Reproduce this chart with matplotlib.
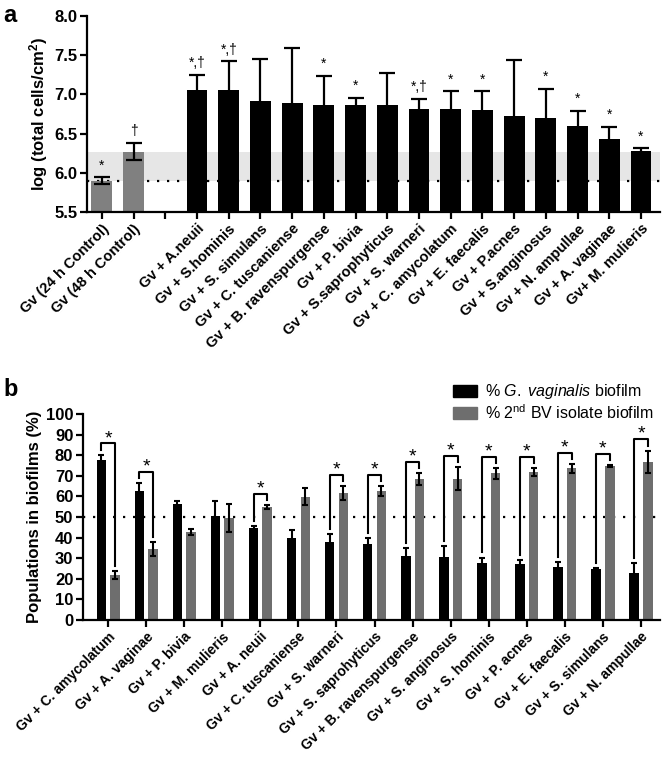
import numpy as np
import matplotlib
matplotlib.use('Agg')
import matplotlib.pyplot as plt
from matplotlib.patches import Patch

plt.rcParams['font.family'] = ['Liberation Sans', 'DejaVu Sans']
plt.rcParams['mathtext.fontset'] = 'custom'
plt.rcParams['mathtext.rm'] = 'Liberation Sans'
plt.rcParams['mathtext.it'] = 'Liberation Sans:italic'
plt.rcParams['mathtext.bf'] = 'Liberation Sans:bold'

# panel a : total cells
a_labels = ['Gv (24 h Control)', 'Gv (48 h Control)', '',
            'Gv + A.neuii', 'Gv + S.hominis', 'Gv + S. simulans', 'Gv + C. tuscaniense',
            'Gv + B. ravenspurgense', 'Gv + P. bivia', 'Gv + S.saprophyticus',
            'Gv + S. warneri', 'Gv + C. amycolatum', 'Gv + E. faecalis', 'Gv + P.acnes',
            'Gv + S.anginosus', 'Gv + N. ampullae', 'Gv + A. vaginae', 'Gv+ M. mulieris']
a_mean = [5.90, 6.27, np.nan, 7.05, 7.05, 6.91, 6.89, 6.87, 6.86, 6.86,
          6.82, 6.81, 6.80, 6.73, 6.70, 6.60, 6.43, 6.28]
a_err = [0.045, 0.11, np.nan, 0.20, 0.37, 0.54, 0.70, 0.37, 0.10, 0.41,
         0.12, 0.23, 0.24, 0.71, 0.37, 0.19, 0.16, 0.03]
a_marks = ['*', '†', '', '*,†', '*,†', '', '', '*', '*', '',
           '*,†', '*', '*', '', '*', '*', '*', '*']
ctrl_24 = 5.90
ctrl_48 = 6.27

# panel b : populations
b_labels = ['Gv + C. amycolatum', 'Gv + A. vaginae', 'Gv + P. bivia', 'Gv + M. mulieris',
            'Gv + A. neuii', 'Gv + C. tuscaniense', 'Gv + S. warneri', 'Gv + S. saprohyticus',
            'Gv + B. ravenspurgense', 'Gv + S. anginosus', 'Gv + S. hominis', 'Gv + P. acnes',
            'Gv + E. faecalis', 'Gv + S. simulans', 'Gv + N. ampullae']
gv_pct = [77.7, 62.6, 56.5, 50.5, 44.8, 39.8, 37.9, 36.7, 31.0, 30.7, 27.8, 27.2, 25.6, 24.9, 22.7]
gv_err = [2.5, 3.7, 1.5, 7.3, 1.0, 4.0, 4.0, 2.9, 4.0, 5.3, 2.5, 2.0, 2.5, 0.5, 5.1]
bv_pct = [21.8, 34.5, 42.7, 49.5, 54.7, 59.9, 61.6, 62.6, 68.3, 68.6, 71.2, 71.8, 73.6, 74.6, 76.9]
bv_err = [2.1, 3.5, 1.5, 6.8, 1.0, 4.0, 3.4, 2.5, 3.0, 5.5, 2.6, 1.8, 2.0, 0.5, 5.3]
b_sig = [True, True, False, False, True, False, True, True, True, True, True, True, True, True, True]

fig = plt.figure(figsize=(6.72, 7.61), dpi=100)

def style(ax):
    for s in ['top', 'right']:
        ax.spines[s].set_visible(False)
    for s in ['left', 'bottom']:
        ax.spines[s].set_linewidth(1.6)
    ax.tick_params(width=1.6, length=5, direction='out', pad=2)
    for t in ax.get_yticklabels():
        t.set_fontweight('bold')

# ---------- a
ax1 = fig.add_axes([87/672, 1-212/761, 573/672, 196/761])
x = np.arange(len(a_labels))
cols = ['#808080', '#808080'] + ['black'] * (len(a_labels) - 2)
ax1.axhspan(ctrl_24, ctrl_48, color='#e6e6e6', zorder=0, lw=0)
ax1.axhline(ctrl_24, color='black', ls=(0, (1, 3.5)), lw=1.6, zorder=1)
ax1.bar(x, a_mean, width=0.66, color=cols, bottom=0, zorder=2)
ax1.errorbar(x, a_mean, yerr=a_err, fmt='none', ecolor='black', elinewidth=1.6,
             capsize=6, capthick=1.6, zorder=3)
for xi, m, e, s in zip(x, a_mean, a_err, a_marks):
    if s:
        ax1.text(xi, m + e + 0.06, s, ha='center', va='bottom', fontsize=10)
ax1.set_ylim(5.5, 8.0)
ax1.set_yticks(np.arange(5.5, 8.01, 0.5))
ax1.set_yticklabels([f'{v:.1f}' for v in np.arange(5.5, 8.01, 0.5)], fontsize=12)
ax1.set_xlim(-0.47, 17.6)
ax1.set_xticks(x)
ax1.set_xticklabels(a_labels, rotation=45, ha='right', rotation_mode='anchor',
                    fontsize=10.5, fontweight='bold')
ax1.set_ylabel('log (total cells/cm$^\\mathbf{2}$)', fontsize=12, fontweight='bold', labelpad=3)
style(ax1)
fig.text(0.005, 0.995, 'a', fontsize=17, fontweight='bold', va='top')

# ---------- b
ax2 = fig.add_axes([83/672, 1-620/761, 577/672, 206/761])
xb = np.arange(len(b_labels))
off = 0.18
w = 0.25
ax2.axhline(50, color='black', ls=(0, (1, 3.5)), lw=1.6, zorder=1)
ax2.bar(xb - off, gv_pct, width=w, color='black', zorder=2)
ax2.bar(xb + off, bv_pct, width=w, color='#6e6e6e', zorder=2)
ax2.errorbar(xb - off, gv_pct, yerr=gv_err, fmt='none', ecolor='black', elinewidth=1.5,
             capsize=2.5, capthick=1.5, zorder=3)
ax2.errorbar(xb + off, bv_pct, yerr=bv_err, fmt='none', ecolor='black', elinewidth=1.5,
             capsize=2.5, capthick=1.5, zorder=3)
for xi, g, ge, b, be, s in zip(xb, gv_pct, gv_err, bv_pct, bv_err, b_sig):
    if not s:
        continue
    tg, tb = g + ge, b + be
    top = max(tg, tb) + 5.5
    ax2.plot([xi - off, xi - off, xi + off, xi + off], [tg + 2.5, top, top, tb + 2.5],
             color='black', lw=1.5, zorder=3)
    ax2.text(xi, top + 0.2, '*', ha='center', va='baseline', fontsize=14)
ax2.set_ylim(0, 100)
ax2.set_yticks(np.arange(0, 101, 10))
ax2.set_yticklabels([str(v) for v in range(0, 101, 10)], fontsize=12)
ax2.set_xlim(-0.66, 14.5)
ax2.set_xticks(xb)
ax2.set_xticklabels(b_labels, rotation=45, ha='right', rotation_mode='anchor',
                    fontsize=10, fontweight='bold')
ax2.set_ylabel('Populations in biofilms (%)', fontsize=12, fontweight='bold', labelpad=3)
style(ax2)
fig.text(0.005, 1-378/761, 'b', fontsize=17, fontweight='bold', va='top')

handles = [Patch(color='black'), Patch(color='#6e6e6e')]
names = ['% $\\it{G.\\ vaginalis}$ biofilm', '% 2$^{\\rm nd}$ BV isolate biofilm']
fig.legend(handles, names, loc='upper left', bbox_to_anchor=(447/672, 1-376/761),
           frameon=False, fontsize=11.5, handlelength=1.5, handleheight=0.8,
           handletextpad=0.5, labelspacing=0.1, borderaxespad=0)

fig.savefig('out.png', dpi=100)
